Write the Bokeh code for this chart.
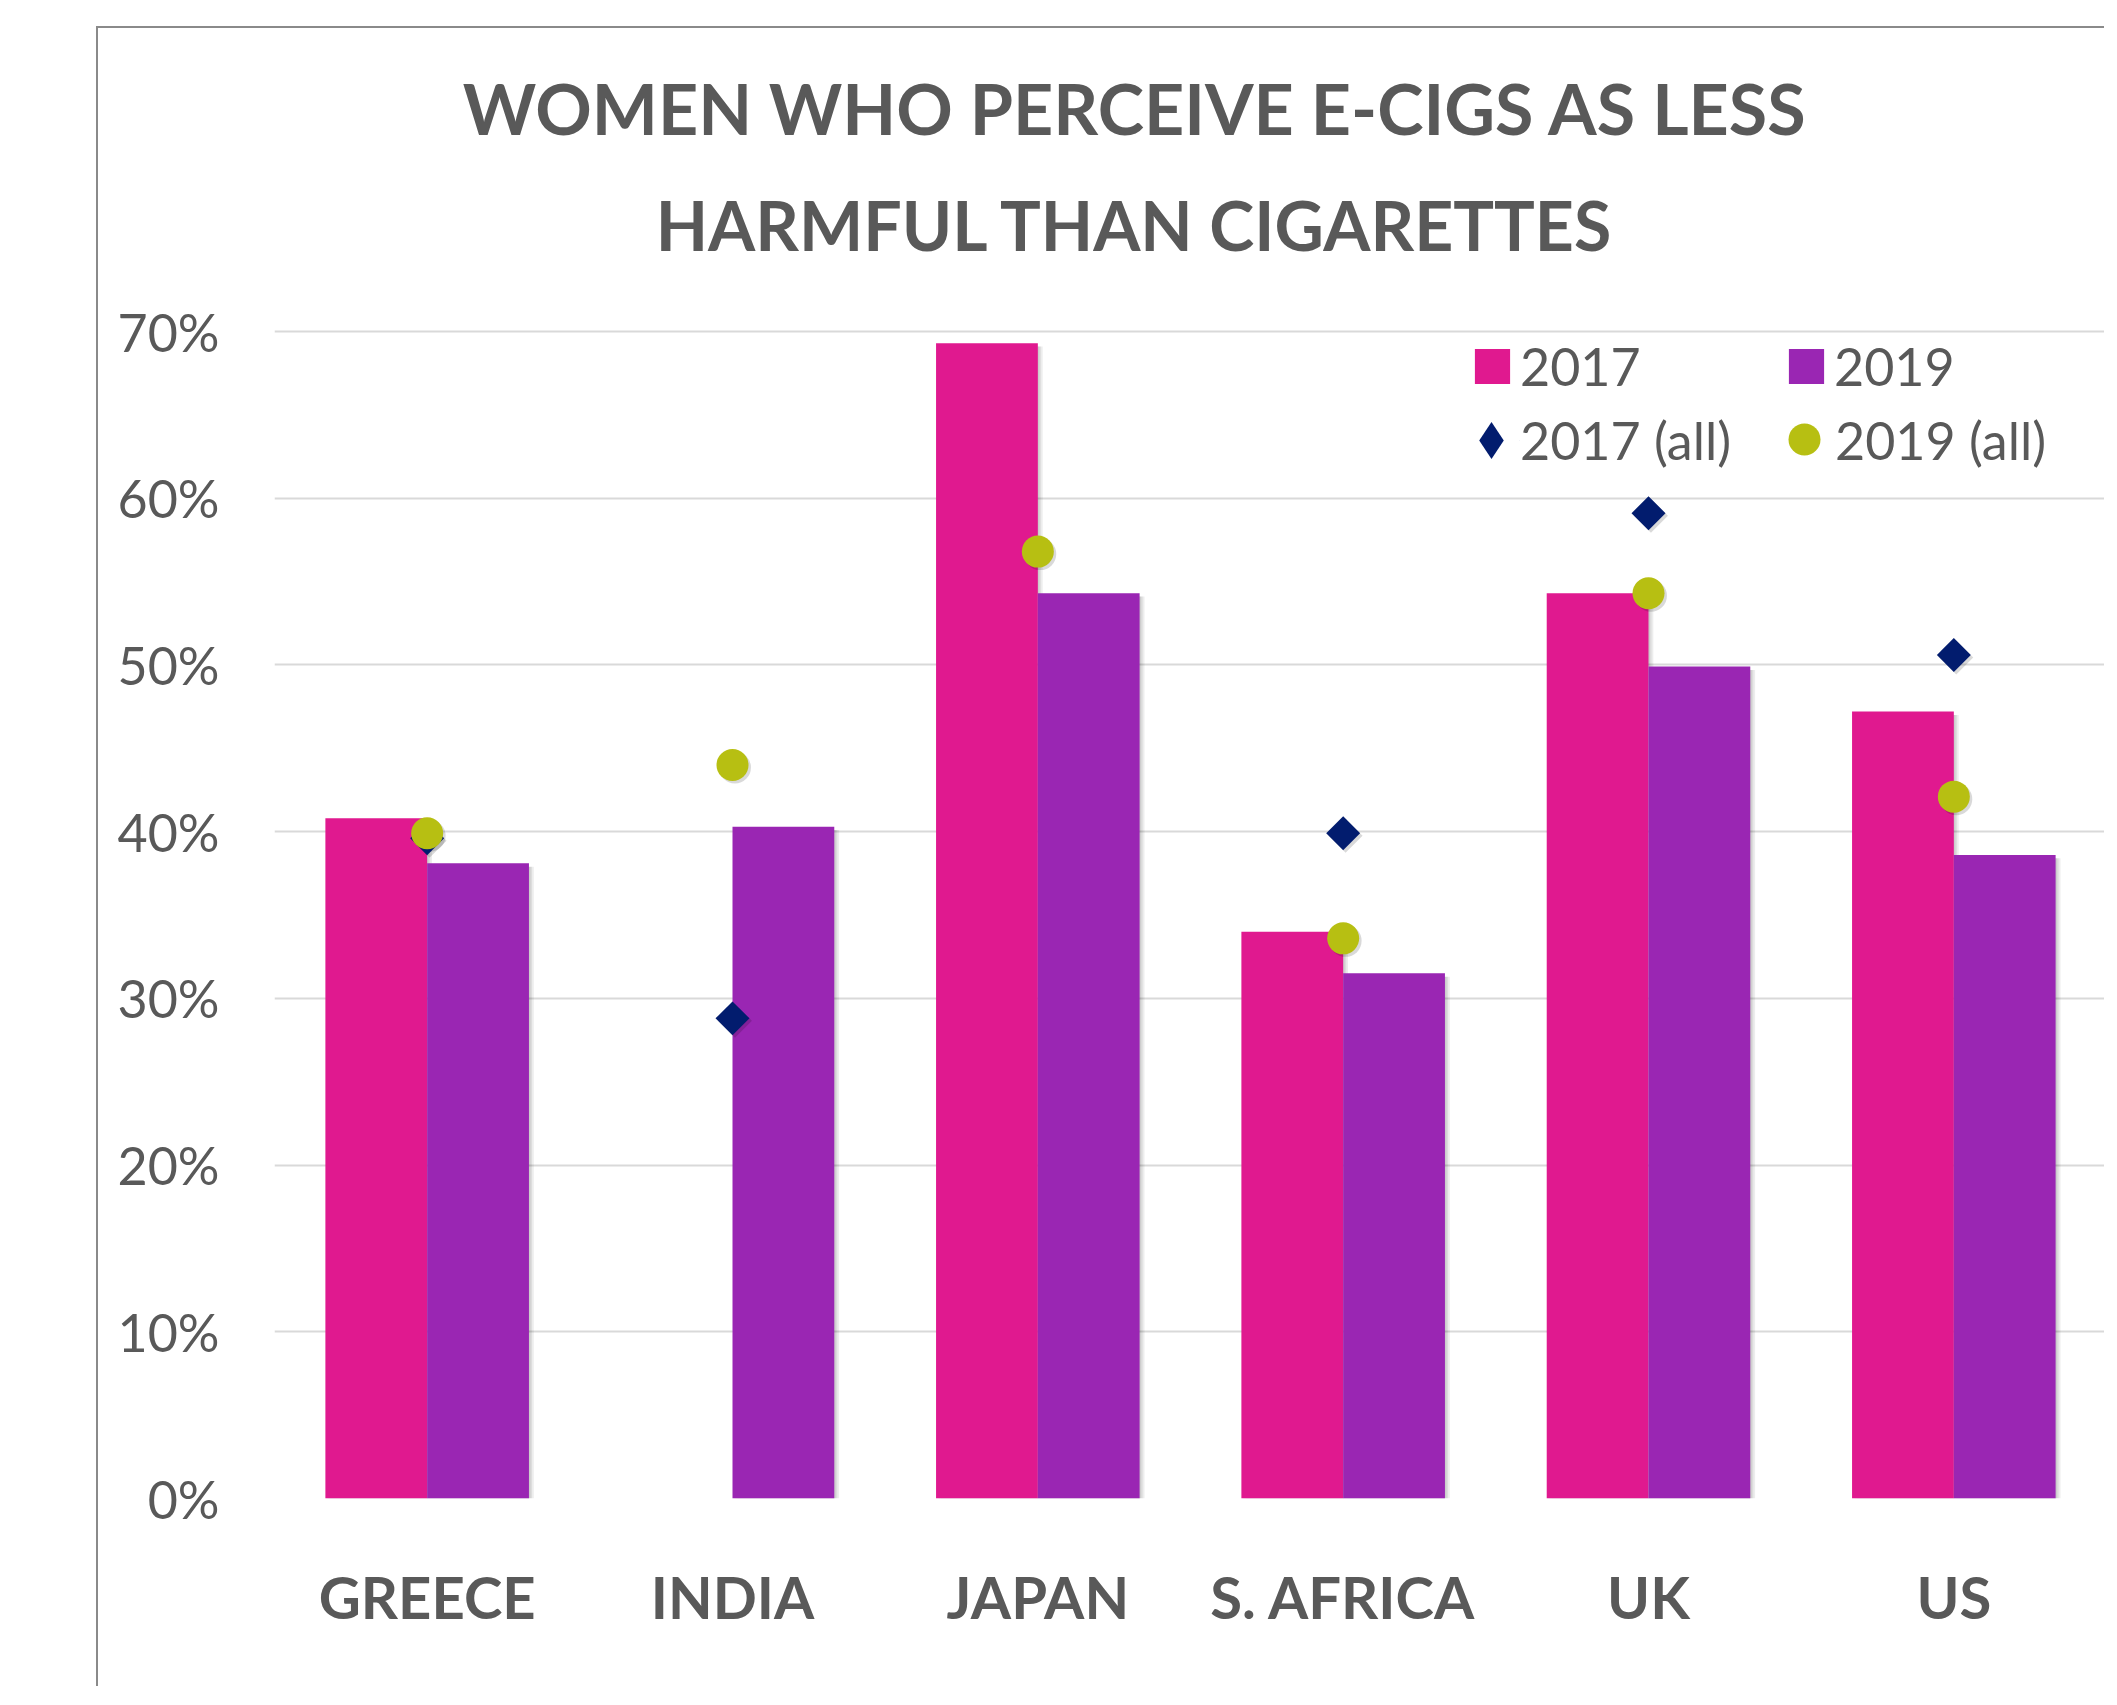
import math
from bokeh.plotting import figure
from bokeh.models import (ColumnDataSource, FactorRange, Range1d, FixedTicker,
                          NumeralTickFormatter, Label, Legend, LegendItem)
from bokeh.transform import dodge
from bokeh.embed import file_html
from bokeh.resources import INLINE

nan = float("nan")

# ---------------- data ----------------
categories = ["GREECE", "INDIA", "JAPAN", "S. AFRICA", "UK", "US"]
women_2017 = [0.408, nan, 0.693, 0.340, 0.543, 0.472]
women_2019 = [0.381, 0.403, 0.543, 0.315, 0.499, 0.386]
all_2017 = [0.396, 0.288, nan, 0.399, 0.591, 0.506]
all_2019 = [0.399, 0.440, 0.568, 0.336, 0.543, 0.421]
y_ticks = [0.0, 0.1, 0.2, 0.3, 0.4, 0.5, 0.6, 0.7]
title_lines = ["WOMEN WHO PERCEIVE E-CIGS AS LESS", "HARMFUL THAN CIGARETTES"]
series_names = ["2017", "2019", "2017 (all)", "2019 (all)"]

# ---------------- style ----------------
PINK = "#E0198F"
PURPLE = "#9A26B3"
NAVY = "#021C6E"
OLIVE = "#B7BF12"
TEXT = "#595959"
GRID = "#D9D9D9"
FONT = "Lato"

src = ColumnDataSource(dict(
    cat=categories,
    w17=women_2017,
    w19=women_2019,
    a17=all_2017,
    a19=all_2019,
    w17s=[v - 0.002 for v in women_2017],
    w19s=[v - 0.002 for v in women_2019],
    a17s=[v - 0.0015 for v in all_2017],
    a19s=[v - 0.0015 for v in all_2019],
))

FRAME_H = 1460          # frame height in px (title area included inside the frame)
AXIS_H = 1167           # px between 0% and 70%
y_end = 0.7 * FRAME_H / AXIS_H

p = figure(
    x_range=FactorRange(factors=categories, range_padding=0),
    y_range=Range1d(0, y_end),
    width=2008, height=1660,
    output_backend="svg", toolbar_location=None,
    min_border_left=176, min_border_right=0,
    min_border_top=10, min_border_bottom=190,
    margin=(26, 0, 0, 96),
    styles={"border-left": "2px solid #8a8a8a", "border-top": "2px solid #8a8a8a"},
)
p.outline_line_color = None
p.background_fill_color = "white"
p.border_fill_color = "white"

# axes
p.yaxis.ticker = FixedTicker(ticks=y_ticks)
p.yaxis.formatter = NumeralTickFormatter(format="0%")
p.yaxis.axis_line_color = None
p.yaxis.major_tick_line_color = None
p.yaxis.minor_tick_line_color = None
p.yaxis.major_tick_out = 0
p.yaxis.major_label_standoff = 55
p.yaxis.major_label_text_font = FONT
p.yaxis.major_label_text_font_size = "52px"
p.yaxis.major_label_text_color = TEXT

p.xaxis.axis_line_color = None
p.xaxis.major_tick_line_color = None
p.xaxis.minor_tick_line_color = None
p.xaxis.major_tick_out = 0
p.xaxis.major_label_standoff = 63
p.xaxis.major_label_text_font = FONT
p.xaxis.major_label_text_font_style = "bold"
p.xaxis.major_label_text_font_size = "58px"
p.xaxis.major_label_text_color = TEXT

p.xgrid.grid_line_color = None
p.ygrid.grid_line_color = GRID
p.ygrid.grid_line_width = 2

# bar shadows
for off in [0.005, 0.010, 0.016]:
    p.vbar(x=dodge("cat", -1/6 + off, range=p.x_range), top="w17s", width=1/3,
           source=src, fill_color="black", fill_alpha=0.07, line_color=None)
    p.vbar(x=dodge("cat", 1/6 + off, range=p.x_range), top="w19s", width=1/3,
           source=src, fill_color="black", fill_alpha=0.07, line_color=None)

r17 = p.vbar(x=dodge("cat", -1/6, range=p.x_range), top="w17", width=1/3,
             source=src, fill_color=PINK, line_color=None)
r19 = p.vbar(x=dodge("cat", 1/6, range=p.x_range), top="w19", width=1/3,
             source=src, fill_color=PURPLE, line_color=None)

# marker shadows
p.scatter(x=dodge("cat", 0.008, range=p.x_range), y="a17s", source=src, marker="square",
          angle=math.pi/4, size=24, fill_color="black", fill_alpha=0.15, line_color=None)
p.scatter(x=dodge("cat", 0.008, range=p.x_range), y="a19s", source=src, marker="circle",
          size=32, fill_color="black", fill_alpha=0.15, line_color=None)

ra17 = p.scatter(x="cat", y="a17", source=src, marker="square", angle=math.pi/4,
                 size=24, fill_color=NAVY, line_color=None)
ra19 = p.scatter(x="cat", y="a19", source=src, marker="circle", size=32,
                 fill_color=OLIVE, line_color=None)
# legend swatch for the diamond series (legend glyphs ignore marker angle)
ra17_key = p.scatter(x="cat", y="a17", source=src, marker="diamond", size=34,
                     fill_color=NAVY, line_color=None, visible=False)

# legends (frame-relative screen positions)
def add_legend(label, renderer, x, y, gw, gh, standoff):
    lg = Legend(items=[LegendItem(label=label, renderers=[renderer])],
                location=(x, y), orientation="vertical",
                glyph_width=gw, glyph_height=gh, label_height=gh,
                label_standoff=standoff, padding=0, margin=0, spacing=0,
                border_line_color=None, background_fill_alpha=0,
                inactive_fill_alpha=0,
                label_text_font=FONT, label_text_font_size="52px",
                label_text_color=TEXT)
    p.add_layout(lg)

# bar keys (swatch + text)
add_legend(series_names[0], r17, 1196, 1101, 44, 44, 6)
add_legend(series_names[1], r19, 1510, 1101, 44, 44, 6)
# marker keys: swatch only (large box so the marker is full size) ...
add_legend(" ", ra17_key, 1171, 1012, 92, 92, 0)
add_legend(" ", ra19, 1490, 1019, 80, 80, 0)
# ... and text only, placed right next to the swatch
add_legend(series_names[2], ra17, 1245, 1027, 1, 1, 0)
add_legend(series_names[3], ra19, 1560, 1027, 1, 1, 0)

# title (two centred lines)
for txt, yy, fs in zip(title_lines, [1391, 1274], ["70px", "68px"]):
    p.add_layout(Label(x=861, y=yy, x_units="screen", y_units="screen", text=txt,
                       text_align="center", text_baseline="middle", text_font=FONT,
                       text_font_style="bold", text_font_size=fs, text_color=TEXT))

open("out.html", "w").write(file_html(p, INLINE))
